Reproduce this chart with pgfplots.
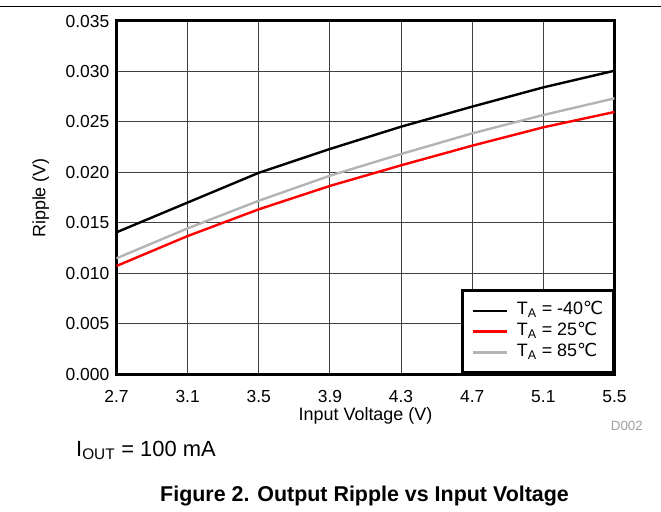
\documentclass[border=0pt]{standalone}
\usepackage{fontspec}
\setmainfont{Liberation Sans}
\newfontfamily\djv{DejaVu Sans}
\usepackage{pgfplots}
\pgfplotsset{compat=1.18}
\definecolor{lgray}{RGB}{180,180,180}
\definecolor{dgray}{RGB}{160,160,160}
\begin{document}
\begin{tikzpicture}
\useasboundingbox (-116.5bp,-138bp) rectangle (544.5bp,374bp);
\draw[line width=1.2bp] (-116.5bp,367.5bp) -- (544.5bp,367.5bp);
\begin{axis}[
  at={(0bp,0bp)}, anchor=south west,
  scale only axis, width=498bp, height=353bp,
  xmin=2.7, xmax=5.5, ymin=0, ymax=0.035,
  xtick={2.7,3.1,3.5,3.9,4.3,4.7,5.1,5.5},
  ytick={0,0.005,0.01,0.015,0.02,0.025,0.03,0.035},
  scaled y ticks=false,
  yticklabel style={/pgf/number format/fixed, /pgf/number format/fixed zerofill, /pgf/number format/precision=3},
  xticklabel style={/pgf/number format/fixed, /pgf/number format/fixed zerofill, /pgf/number format/precision=1},
  /pgf/number format/assume math mode=true,
  major tick length=0pt,
  tick label style={font=\fontsize{17.5}{18}\selectfont},
  xticklabel style={anchor=base, yshift=-28bp, inner sep=0pt},
  yticklabel style={anchor=east, xshift=-7bp, inner sep=0pt},
  grid=major,
  grid style={black!75, line width=1.1bp},
  axis line style={line width=3bp},
  legend cell align=left,
  legend image code/.code={\draw[#1] (0bp,0bp) -- (34bp,0bp);},
  legend style={at={(1,0)}, anchor=south east, draw=black, line width=3bp,
    inner xsep=8.5bp, inner ysep=9.5bp, row sep=0bp,
    font=\fontsize{18}{18}\selectfont,
    /tikz/every odd column/.append style={column sep=8bp},
    nodes={inner sep=1.2bp, text height=13bp, text depth=5.5bp}},
]
\addplot[black, line width=2.4bp] coordinates {
(2.7,0.01405) (3.1,0.01700) (3.5,0.01995) (3.9,0.02231) (4.3,0.02452) (4.7,0.02651) (5.1,0.02842) (5.5,0.03007)};
\addlegendentry{T\textsubscript{A} = -40{\djv ℃}}
\addplot[red, line width=2.4bp] coordinates {
(2.7,0.01071) (3.1,0.01368) (3.5,0.01633) (3.9,0.01865) (4.3,0.02069) (4.7,0.02264) (5.1,0.02446) (5.5,0.02598)};
\addlegendentry{T\textsubscript{A} = 25{\djv ℃}}
\addplot[lgray, line width=2.4bp] coordinates {
(2.7,0.01147) (3.1,0.01444) (3.5,0.01718) (3.9,0.01966) (4.3,0.02181) (4.7,0.02386) (5.1,0.02568) (5.5,0.02733)};
\addlegendentry{T\textsubscript{A} = 85{\djv ℃}}
\end{axis}
\node[anchor=base, font=\fontsize{18}{18}\selectfont] at (249bp,-46bp) {Input Voltage (V)};
\node[rotate=90, anchor=base, font=\fontsize{18}{18}\selectfont] at (-71bp,176bp) {Ripple (V)};
\node[anchor=base east, font=\fontsize{13.4}{14}\selectfont, text=dgray, inner sep=0pt] at (526.5bp,-56bp) {D002};
\node[anchor=base west, font=\fontsize{22}{22}\selectfont, inner sep=0pt] at (-40.5bp,-82bp) {I\textsubscript{OUT} = 100 mA};
\node[anchor=base, font=\bfseries\fontsize{21.5}{22}\selectfont, inner sep=0pt] at (248bp,-127bp) {Figure 2. Output Ripple vs Input Voltage};
\end{tikzpicture}
\end{document}
